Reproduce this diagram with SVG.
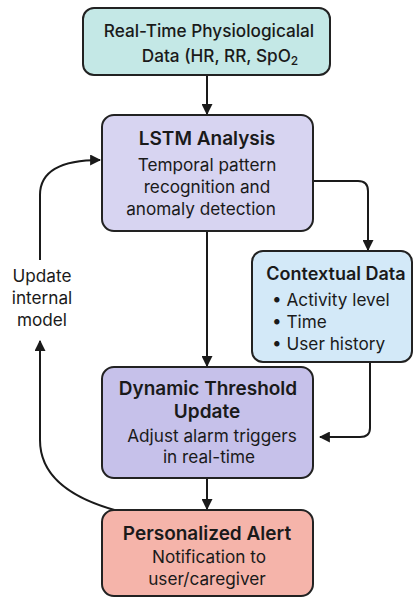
<svg xmlns="http://www.w3.org/2000/svg" width="414" height="599" viewBox="0 0 414 599">
<defs>
<marker id="ah" viewBox="0 0 10 10" refX="9" refY="5" markerWidth="11" markerHeight="11" markerUnits="userSpaceOnUse" orient="auto">
<path d="M0,0 L10,5 L0,10 Z" fill="#1a1a1a"/>
</marker>
<style>
.box{stroke:#222;stroke-width:2}
.t{font-family:Inter,"Liberation Sans",sans-serif;fill:#1a1a1a;text-anchor:middle}
.h{font-size:19px;font-weight:600}
.b{font-size:17.2px}
.c{stroke:#1a1a1a;stroke-width:2;fill:none;marker-end:url(#ah)}
</style>
</defs>
<rect width="414" height="599" fill="#ffffff"/>
<g id="connectors">
<path class="c" d="M207,75 L207,114"/>
<path class="c" d="M313,181 L358,181 Q368,181 368,191 L368,250"/>
<path class="c" d="M207,231 L207,366"/>
<path class="c" d="M370,362 L370,428 Q370,437 360,437 L320,437"/>
<path class="c" d="M207,478 L207,509"/>
<path class="c" d="M118,511 Q40,490 40,440 L40,341"/>
<path class="c" d="M40,260 L40,195 Q40,160 100,160"/>
</g>
<g id="realtime">
<rect class="box" x="83" y="8" width="247" height="67" rx="11" fill="#c4e8e6"/>
<text class="t b" x="209" y="37" style="font-weight:500">Real-Time Physiologicalal</text>
<text class="t b" x="220" y="62" style="font-weight:500">Data (HR, RR, SpO<tspan font-size="12" dy="3">2</tspan></text>
</g>
<g id="lstm">
<rect class="box" x="102" y="115" width="211" height="116" rx="12" fill="#d7d4f1"/>
<text class="t h" x="207" y="145">LSTM Analysis</text>
<text class="t b" x="207" y="171">Temporal pattern</text>
<text class="t b" x="207" y="193">recognition and</text>
<text class="t b" x="201" y="215">anomaly detection</text>
</g>
<g id="contextual">
<rect class="box" x="252" y="251" width="160" height="111" rx="11" fill="#d3e9f8"/>
<text class="t h" x="336" y="280" style="font-size:18px">Contextual Data</text>
<text class="t b" x="272" y="306" style="text-anchor:start">• Activity level</text>
<text class="t b" x="272" y="328" style="text-anchor:start">• Time</text>
<text class="t b" x="272" y="350" style="text-anchor:start">• User history</text>
</g>
<g id="label">
<text class="t b" x="42" y="282">Update</text>
<text class="t b" x="42" y="304">internal</text>
<text class="t b" x="42" y="326">model</text>
</g>
<g id="threshold">
<rect class="box" x="102" y="367" width="211" height="111" rx="12" fill="#c6c1ea"/>
<text class="t h" x="208" y="395">Dynamic Threshold</text>
<text class="t h" x="207" y="418">Update</text>
<text class="t b" x="212" y="442">Adjust alarm triggers</text>
<text class="t b" x="209" y="463">in real-time</text>
</g>
<g id="alert">
<rect class="box" x="102" y="510" width="211" height="86" rx="12" fill="#f5b4aa"/>
<text class="t h" x="207" y="540">Personalized Alert</text>
<text class="t b" x="209" y="563">Notification to</text>
<text class="t b" x="207" y="585">user/caregiver</text>
</g>
</svg>
